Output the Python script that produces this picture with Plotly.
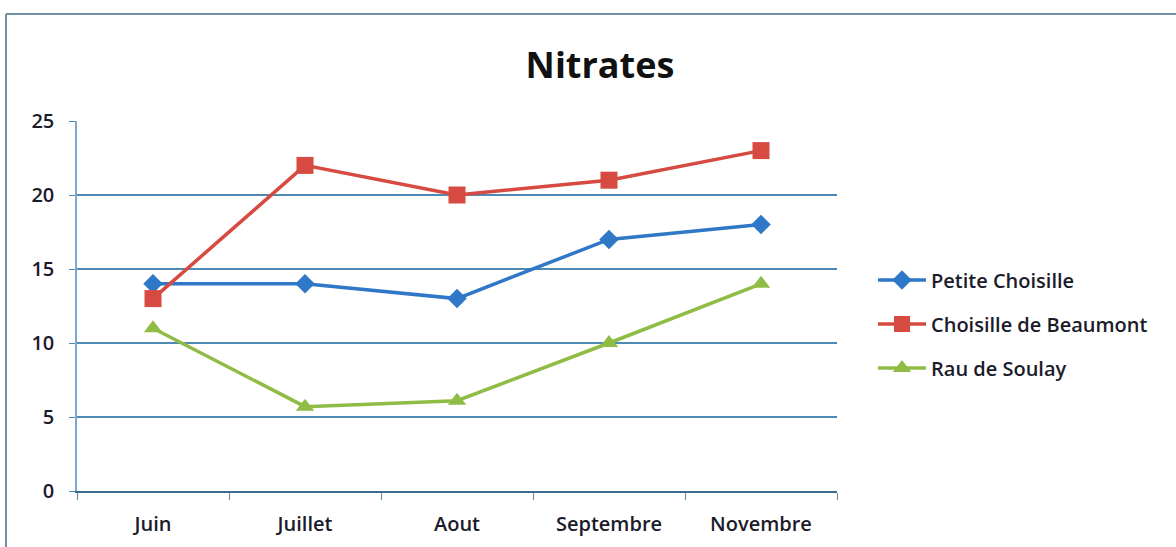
import plotly.graph_objects as go

months = ["Juin", "Juillet", "Aout", "Septembre", "Novembre"]
petite_choisille = [14, 14, 13, 17, 18]
choisille_beaumont = [13, 22, 20, 21, 23]
rau_soulay = [11, 5.7, 6.1, 10, 14]
y_ticks = [0, 5, 10, 15, 20, 25]

series = [
    ("Petite Choisille", petite_choisille, "#2f78c8", "diamond", 15),
    ("Choisille de Beaumont", choisille_beaumont, "#d64a42", "square", 17),
    ("Rau de Soulay", rau_soulay, "#8fbc45", "triangle-up", 16),
]

fig = go.Figure()
for i, (name, vals, color, sym, size) in enumerate(series):
    fig.add_trace(go.Scatter(
        x=months, y=vals, name=name, mode="lines+markers",
        line=dict(color=color, width=3.5),
        marker=dict(symbol=sym, size=size, color=color),
        legendgroup=f"g{i}",
    ))

W, H = 1176, 547
ml, mr, mt, mb = 77, W - 837, 121, H - 491
pw, ph = W - ml - mr, H - mt - mb

fig.update_layout(
    width=W, height=H,
    margin=dict(l=ml, r=mr, t=mt, b=mb),
    paper_bgcolor="white", plot_bgcolor="white",
    font=dict(family="Open Sans, DejaVu Sans", color="#1b1b2b"),
    title=dict(text="<b>Nitrates</b>", x=(600 - ml) / pw, xref="paper", xanchor="center",
               y=1 - 65 / H, yanchor="middle",
               font=dict(size=36, family="Open Sans", color="#111111")),
    showlegend=True,
    legend=dict(x=(873 - ml) / pw, xanchor="left", y=(491 - 324) / ph, yanchor="middle",
                font=dict(size=20, family="Open Sans", color="#1b1b2b", weight=600),
                tracegroupgap=15, bgcolor="rgba(0,0,0,0)", itemwidth=48),
    xaxis=dict(
        type="category", categoryorder="array", categoryarray=months,
        range=[-0.5, 4.5], showgrid=False, zeroline=False, automargin=False,
        showline=True, linecolor="#3c6c8c", linewidth=2,
        ticks="outside", tickson="boundaries", ticklen=7, tickcolor="#5a86a8",
        ticklabelstandoff=14,
        tickfont=dict(size=20, family="Open Sans", color="#1b1b2b", weight=600),
    ),
    yaxis=dict(
        range=[0, 25], tickmode="array", tickvals=y_ticks, automargin=False,
        showgrid=True, gridcolor="#4f8ab5", gridwidth=1.5,
        zeroline=False, showline=True, linecolor="#7fa8cc", linewidth=1.5,
        ticks="outside", ticklen=6, tickcolor="#4f8ab5",
        ticklabelstandoff=11,
        tickfont=dict(size=20, family="Open Sans", color="#1b1b2b", weight=600),
    ),
    shapes=[
        dict(type="line", xref="paper", yref="paper",
             x0=-(ml - 6) / pw, x1=(W - ml) / pw, y0=(491 - 14) / ph, y1=(491 - 14) / ph,
             line=dict(color="#6f8fa3", width=2)),
        dict(type="line", xref="paper", yref="paper",
             x0=-(ml - 6) / pw, x1=-(ml - 6) / pw, y0=(491 - 14) / ph, y1=-(H - 491) / ph,
             line=dict(color="#6f8fa3", width=2)),
    ],
)

fig.write_html("out.html", config={"displayModeBar": False},
               post_script="document.body.style.margin='0px';document.body.style.overflow='hidden';")
